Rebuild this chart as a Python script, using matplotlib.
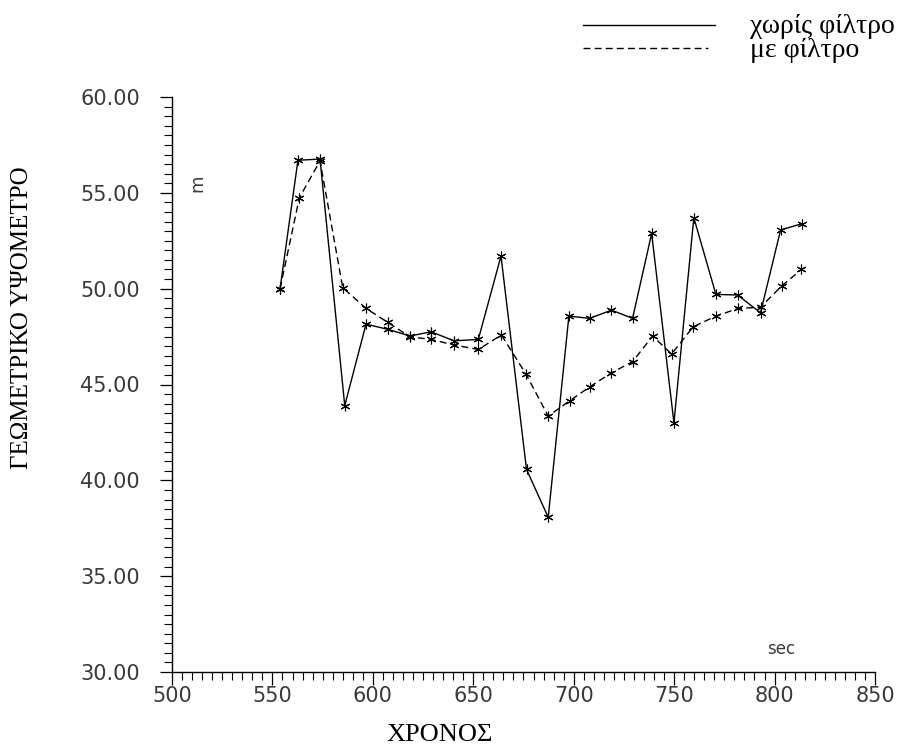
import matplotlib
matplotlib.use("Agg")
import matplotlib.pyplot as plt
from matplotlib.ticker import MultipleLocator, FormatStrFormatter

# Data
t_raw = [553.8, 562.7, 573.7, 586.0, 596.6, 607.4, 618.5, 629.0, 640.4, 652.5,
         663.8, 676.5, 687.3, 697.6, 708.0, 718.8, 729.3, 738.8, 749.9, 759.8,
         770.8, 781.6, 793.0, 803.0, 813.9]
h_raw = [50.0, 56.7, 56.76, 43.9, 48.15, 47.88, 47.53, 47.75, 47.28, 47.35,
         51.7, 40.57, 38.07, 48.57, 48.45, 48.88, 48.45, 52.88, 43.0, 53.7,
         49.7, 49.67, 48.74, 53.06, 53.4]

t_filt = [553.8, 563.4, 573.7, 585.0, 596.6, 607.4, 618.5, 629.0, 640.4, 652.5,
          664.0, 676.2, 687.3, 698.0, 708.0, 718.8, 729.3, 739.3, 748.7, 759.5,
          770.8, 781.9, 793.0, 803.5, 813.4]
h_filt = [50.0, 54.74, 56.67, 50.05, 48.97, 48.24, 47.49, 47.35, 47.06, 46.83,
          47.58, 45.55, 43.35, 44.15, 44.88, 45.61, 46.19, 47.53, 46.59, 48.01,
          48.57, 48.97, 49.03, 50.14, 51.0]

labels = ["χωρίς φίλτρο", "με φίλτρο"]
xlabel = "ΧΡΟΝΟΣ"
ylabel = "ΓΕΩΜΕΤΡΙΚΟ ΥΨΟΜΕΤΡΟ"

W, H = 910, 749
fig = plt.figure(figsize=(W / 100, H / 100), dpi=100)
ax = fig.add_axes([172 / W, 1 - 672 / H, (875 - 172) / W, (672 - 97) / H])

ast = (6, 2, 0)
ax.plot(t_raw, h_raw, color="black", lw=1.0, marker=ast, ms=7, mew=0.8,
        label=labels[0])
ax.plot(t_filt, h_filt, color="black", lw=1.0, ls=(0, (5, 3)), marker=ast,
        ms=7, mew=0.8, label=labels[1])

ax.set_xlim(500, 850)
ax.set_ylim(30, 60)
ax.xaxis.set_major_locator(MultipleLocator(50))
ax.xaxis.set_minor_locator(MultipleLocator(5))
ax.yaxis.set_major_locator(MultipleLocator(5))
ax.yaxis.set_minor_locator(MultipleLocator(0.5))
ax.yaxis.set_major_formatter(FormatStrFormatter("%.2f"))

for s in ["top", "right"]:
    ax.spines[s].set_visible(False)
for s in ["left", "bottom"]:
    ax.spines[s].set_linewidth(1.0)

ax.tick_params(axis="both", which="major", length=9, width=0.9, direction="out",
               labelsize=15, labelcolor="#3a3a3a")
ax.tick_params(axis="both", which="minor", length=6, width=0.8, direction="out")
ax.tick_params(axis="x", which="major", pad=1)
ax.tick_params(axis="y", which="major", pad=14)
for lab in ax.get_xticklabels() + ax.get_yticklabels():
    lab.set_fontfamily("DejaVu Sans")

serif = ["Liberation Serif", "DejaVu Serif"]
fig.text(440 / W, 1 - 735 / H, xlabel, ha="center", va="center",
         family=serif, fontsize=19)
fig.text(22 / W, 1 - 318 / H, ylabel, ha="center", va="center",
         rotation=90, family=serif, fontsize=18)

fig.text(197 / W, 1 - 183 / H, "m", ha="center", va="center", rotation=90,
         family="DejaVu Sans", fontsize=13, color="#3a3a3a")
fig.text(781 / W, 1 - 649 / H, "sec", ha="center", va="center",
         family="DejaVu Sans", fontsize=12, color="#3a3a3a")

# Legend drawn in figure coordinates
fig.lines.append(plt.Line2D([583 / W, 715 / W], [1 - 25 / H, 1 - 25 / H],
                            transform=fig.transFigure, color="black", lw=1.0))
fig.lines.append(plt.Line2D([583 / W, 708 / W], [1 - 48 / H, 1 - 48 / H],
                            transform=fig.transFigure, color="black", lw=1.0,
                            ls=(0, (5, 3))))
fig.text(750 / W, 1 - 33 / H, labels[0], ha="left", va="baseline",
         family=serif, fontsize=20)
fig.text(750 / W, 1 - 57 / H, labels[1], ha="left", va="baseline",
         family=serif, fontsize=20)

fig.savefig("out.png", dpi=100)
